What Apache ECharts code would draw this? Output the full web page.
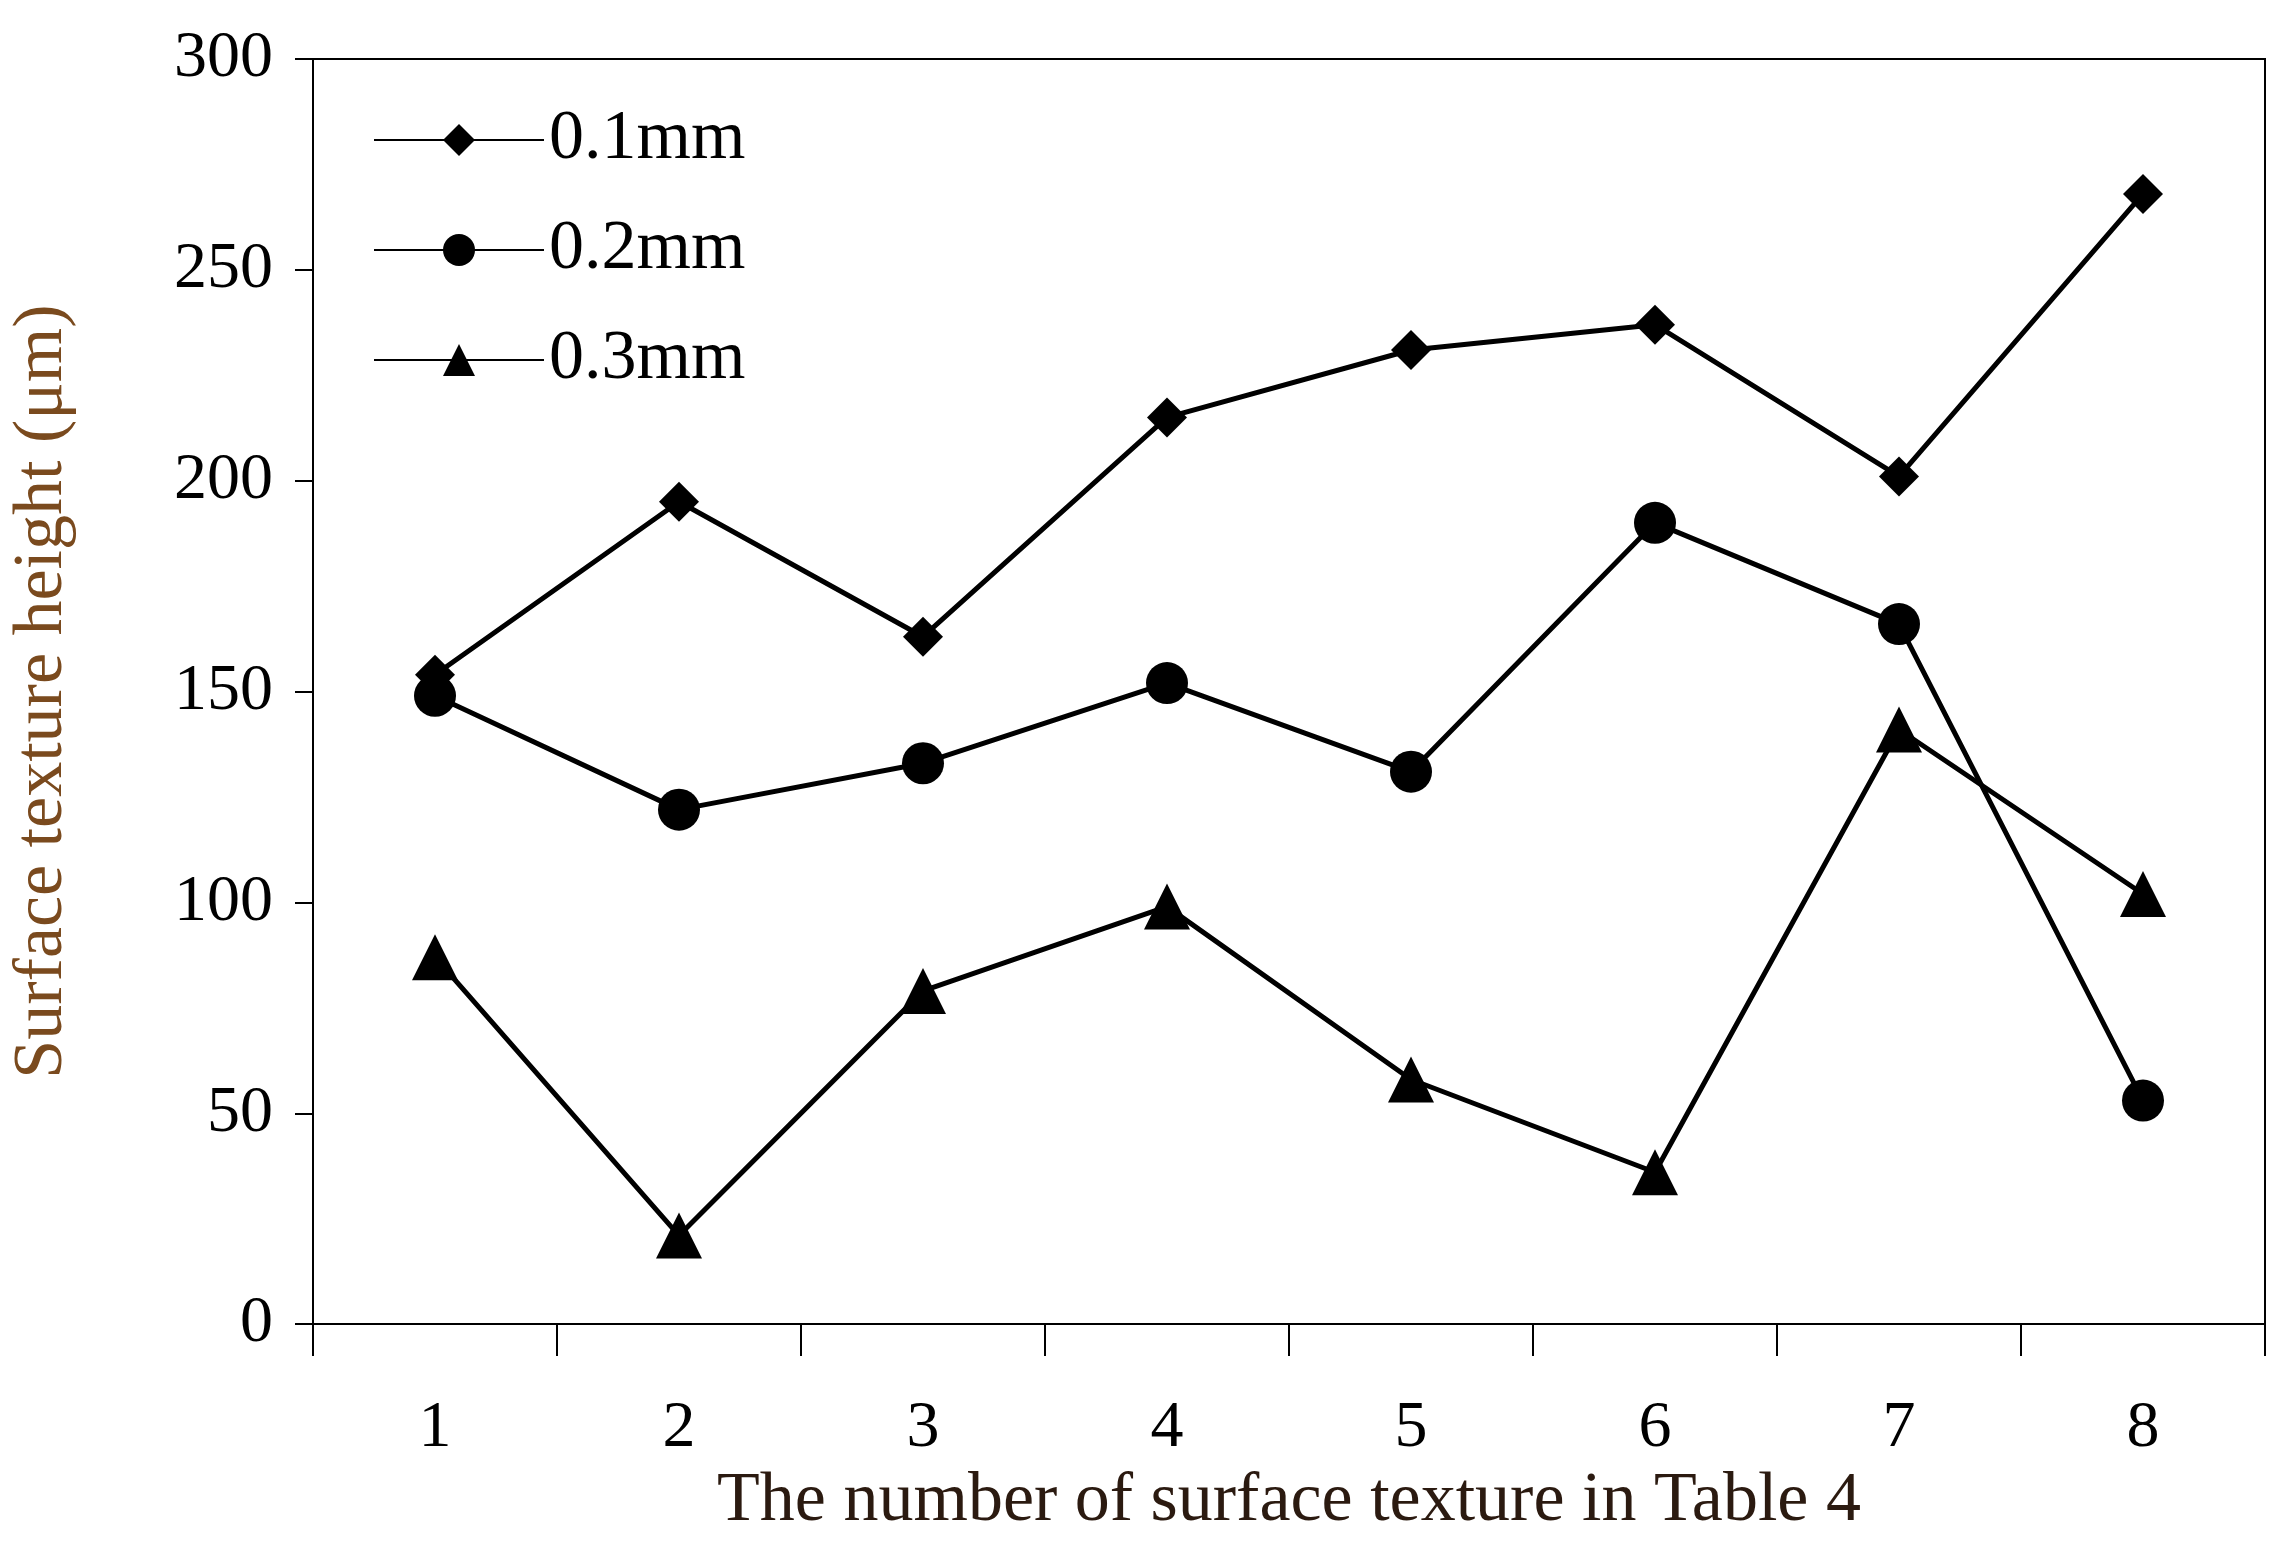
<!DOCTYPE html>
<html>
<head>
<meta charset="UTF-8">
<title>Surface texture height</title>
<script src="https://cdn.jsdelivr.net/npm/echarts@6/dist/echarts.min.js"></script>
<style>
html, body { margin: 0; padding: 0; background: #fff; }
#main { width: 2284px; height: 1542px; }
</style>
</head>
<body>
<div id="main"></div>
<script>
var categories = ['1', '2', '3', '4', '5', '6', '7', '8'];
var s01 = [154, 195, 163, 215, 231, 237, 201, 268];
var s02 = [149, 122, 133, 152, 131, 190, 166, 53];
var s03 = [87, 21, 79, 99, 58, 36, 141, 102];

var font = 'Liberation Serif';
var chart = echarts.init(document.getElementById('main'));

function line(name, data, symbol, size) {
    return {
        name: name, type: 'line', data: data,
        symbol: symbol, symbolSize: size,
        lineStyle: { color: '#000', width: 5 },
        itemStyle: { color: '#000' }
    };
}

chart.setOption({
    backgroundColor: '#fff',
    animation: false,
    grid: { left: 312, right: 19, top: 59, bottom: 213, show: true, borderColor: '#000', borderWidth: 2 },
    legend: {
        orient: 'vertical', left: 368, top: 100, itemWidth: 170, itemHeight: 40, itemGap: 40,
        textStyle: { fontFamily: font, fontSize: 70, color: '#000' },
        data: ['0.1mm', '0.2mm', '0.3mm']
    },
    xAxis: {
        type: 'category', data: categories, boundaryGap: true,
        name: 'The number of surface texture in Table 4', nameLocation: 'middle', nameGap: 140,
        nameTextStyle: { fontFamily: font, fontSize: 70, color: '#2b1a10' },
        axisLine: { lineStyle: { color: '#000', width: 2 } },
        axisTick: { show: true, length: 32, lineStyle: { color: '#000', width: 2 } },
        axisLabel: { fontFamily: font, fontSize: 66, color: '#000', margin: 72 }
    },
    yAxis: {
        type: 'value', min: 0, max: 300, interval: 50,
        name: 'Surface texture height (\u03bcm)', nameLocation: 'middle', nameGap: 235,
        nameTextStyle: { fontFamily: font, fontSize: 70, color: '#7a4a1e' },
        axisLine: { show: true, lineStyle: { color: '#000', width: 2 } },
        axisTick: { show: true, length: 18, lineStyle: { color: '#000', width: 2 } },
        axisLabel: { fontFamily: font, fontSize: 66, color: '#000', margin: 40 },
        splitLine: { show: false }
    },
    series: [
        line('0.1mm', s01, 'diamond', 40),
        line('0.2mm', s02, 'circle', 42),
        line('0.3mm', s03, 'triangle', 46)
    ]
});
</script>
</body>
</html>
